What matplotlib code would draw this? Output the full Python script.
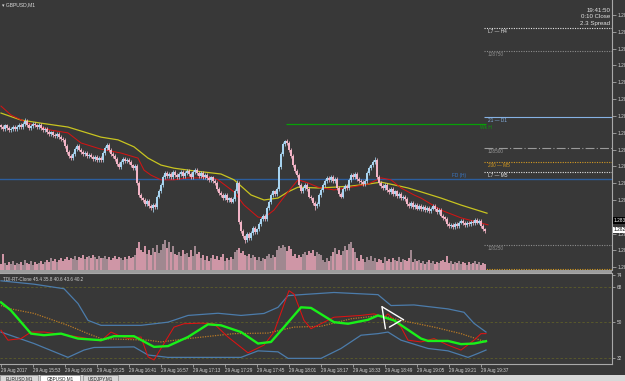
import numpy as np
import matplotlib
matplotlib.use('Agg')
import matplotlib.pylab as plt
from matplotlib.patches import Rectangle

plt.rcParams['font.family'] = ['Liberation Sans', 'DejaVu Sans']

# GBPUSD M1, prices kept as pips above 1.28000
closes = [
    55.5, 55.0, 55.8, 55.2, 54.6, 55.0, 55.4, 54.8, 55.3, 55.9, 55.5, 56.2, 57.0,
    56.0, 55.2, 55.6, 56.3, 55.8,
    55.4, 56.0, 55.1, 54.7, 54.9,
    54.2, 53.6, 54.0, 53.4, 53.0,
    53.5, 52.8, 52.4, 52.0,
    50.5, 49.0, 48.0, 47.5,
    48.5, 49.8, 50.5, 49.6, 49.0,
    48.4, 48.8, 48.0, 48.3, 47.8,
    47.2, 47.6, 46.9, 47.4, 47.0,
    48.6, 50.0, 50.8,
    49.5, 48.5, 48.0, 47.2,
    45.8, 45.2,
    46.5, 47.2, 46.6, 47.0, 46.4,
    45.5, 44.8, 45.3,
    41.0, 38.0,
    37.0, 36.5, 35.6, 36.3,
    35.0, 34.6, 35.4, 34.8,
    37.5, 39.0, 40.5,
    42.5, 43.6, 42.8,
    43.4, 42.6, 43.8, 43.0,
    42.4, 43.2, 43.8, 42.8, 43.5, 44.2, 43.4,
    42.6, 43.8, 44.4, 43.5, 42.8,
    43.6, 42.5, 43.0, 42.2,
    41.8, 42.4, 41.5, 41.0,
    39.5, 38.4, 37.8,
    37.2, 37.8, 36.6, 37.0, 36.2, 36.8,
    39.0, 41.0,
    31.0,
    28.5, 27.2, 26.4, 27.8, 26.8,
    28.0, 29.5, 28.4, 29.0,
    30.5, 31.8, 32.5, 31.6,
    34.5, 36.0,
    38.0, 38.8, 38.2, 39.5,
    45.0, 48.5,
    51.0, 51.8, 51.2,
    49.5, 48.0,
    45.5, 44.0, 43.0,
    40.5, 39.0,
    39.8, 40.4, 39.5,
    37.5, 37.0,
    35.8, 35.0, 35.6,
    38.0, 39.2,
    40.5, 41.5, 42.2, 41.8,
    42.5, 41.6, 42.0,
    39.8, 38.2, 37.5,
    39.5, 40.2, 39.8,
    41.8, 43.0, 42.4, 43.2,
    42.0, 41.5,
    41.2, 40.8, 41.5,
    43.5, 44.8, 45.5,
    46.5, 47.0,
    42.5, 41.0,
    40.2, 39.8, 40.5,
    39.2, 38.6, 39.4, 38.2, 38.8,
    37.6, 38.2, 37.0, 37.5, 36.8,
    35.6, 35.0, 35.8,
    34.8, 35.4, 34.4, 35.0,
    34.2, 34.8, 34.0,
    34.6, 33.8, 34.4,
    35.0, 34.2, 33.6, 34.0,
    32.6, 32.0, 31.8,
    30.4, 29.8,
    30.2, 29.6, 30.4, 29.8,
    30.8, 31.2, 30.6,
    30.2, 30.8, 30.4, 31.0, 30.6,
    31.4, 30.8, 31.2,
    30.0, 29.0, 28.6,
]
first_open = 55.8
spike_high = {12: 57.7, 118: 41.8, 142: 52.1, 187: 47.8}
spike_low = {76: 33.5, 122: 25.5, 157: 34.0}

volumes = [
    6, 16, 7, 5, 8, 6, 9, 5, 7, 6,
    8, 5, 10, 7, 6, 9, 5, 8, 6, 7, 9, 6, 8,
    10, 8, 12, 9, 11, 8, 10, 12, 9, 11, 13, 10, 12,
    11, 14, 10, 13, 12, 15, 11, 13, 14, 12, 15, 13, 11, 14, 12,
    12, 14, 11, 13, 10, 12, 14, 11, 13, 12, 10, 13, 11, 14, 12, 13, 15,
    22, 28, 20, 18, 24,
    16, 20, 15, 22, 18, 25, 17, 20,
    26, 30, 22, 28, 18, 24, 16,
    15, 18, 14, 20, 16, 17, 13,
    20, 14, 24, 16, 18,
    12, 15, 10, 14,
    9, 12, 15, 11, 14, 10, 13, 16, 9, 12, 10, 13, 11,
    18, 20, 22, 17, 19, 15,
    14, 16, 12, 15, 13,
    10, 13, 9, 12, 11,
    14, 16, 12, 15, 13,
    20, 24, 22, 25, 23, 19, 24, 21,
    14, 16, 12, 15, 13,
    16, 18, 15, 19, 17, 20, 14, 18, 16, 15,
    10, 8, 12, 9,
    14, 18, 22, 16, 20, 15, 19, 24,
    20, 26, 28, 22, 18,
    12, 9, 15, 11, 8, 13, 10, 14,
    9, 12, 8, 11, 10, 7, 13, 9, 11, 8, 12, 10, 9, 13, 8, 11, 10, 9, 12, 20, 8, 11, 9, 10,
    7, 9, 6, 8, 10, 7, 9, 6, 8, 7, 9, 10, 8, 14, 7, 9, 6, 8, 7, 9, 6, 8, 7, 5, 8, 6, 7,
    9, 6, 8, 5, 7, 6,
]

# moving averages (bar index, pips)
ma_slow_x = [0, 10, 20, 33.5, 50, 58.5, 66.5, 73.5, 80, 86.5, 96.5, 105, 110, 116.5, 125,
             131.5, 138.5, 143.5, 148.5, 158.5, 166.5, 175, 183.5, 190, 196.5, 203.5, 210,
             220, 230, 243]
ma_slow = [59.0, 57.2, 56.4, 55.4, 52.8, 52.1, 50.3, 47.4, 45.6, 44.8, 44.1, 43.6, 43.3, 41.8,
           37.9, 36.6, 37.1, 38.7, 39.9, 39.7, 39.9, 40.2, 40.7, 41.2, 40.5, 39.7, 38.7, 37.1,
           35.3, 33.2]
ma_fast_x = [0, 5, 13.5, 25, 33.5, 40, 50, 60, 68.5, 71.5, 75, 80, 86.5, 93.5, 100, 105, 108.5,
             116.5, 121.5, 128.5, 131.5, 136.5, 141.5, 148.5, 153.5, 158.5, 166.5, 175, 183.5,
             190, 195, 200, 206.5, 210, 220, 230, 243.5]
ma_fast = [60.8, 58.5, 56.4, 54.6, 53.9, 51.3, 49.7, 48.7, 47.4, 44.3, 43.0, 41.8, 41.8, 42.3,
           42.3, 42.5, 41.8, 38.7, 35.3, 32.2, 32.0, 34.0, 37.4, 41.8, 41.0, 39.9, 39.2, 39.9,
           40.7, 42.3, 41.8, 39.7, 37.9, 37.1, 34.0, 32.0, 30.2]

# horizontal levels: (pips, label, colour, style)
levels = [
    (80.9, 'L7 — H4', '#e6e6e6', (0, (1, 1.2))),
    (75.0, '128750', '#8c8c8c', (0, (1, 1.2))),
    (58.0, '21 — D1', '#86b2e4', '-'),
    (50.0, '128500', '#9a9a9a', (0, (8, 2, 1, 2))),
    (46.4, '200 — M5', '#d49a22', (0, (1, 1.2))),
    (43.8, 'L7 — M5', '#e6e6e6', (0, (1, 1.2))),
    (25.0, '128250', '#8c8c8c', (0, (1, 1.2))),
    (18.8, '', '#d49a22', (0, (1, 1.2))),
]
week_high = 56.2
fd_level = 42.1
price_ticks = [84.3, 80.0, 75.6, 71.3, 67.0, 62.6, 58.3, 53.9, 49.6, 45.3, 40.9, 36.6,
               27.9, 23.6, 19.3]
bid_price = 31.4
ask_price = 28.9

# TDI indicator
tdi_up_x = [0, 16.5, 31.5, 38.5, 43.5, 50, 70, 83.5, 93.5, 108.5, 120, 131.5, 138.5, 143.5,
            150, 166.5, 188.5, 195, 206.5, 223.5, 231.5, 236.5, 242.5]
tdi_up = [70.9, 69.2, 66.9, 59.4, 50.9, 48.4, 48.4, 50.0, 53.4, 54.5, 53.4, 54.4, 57.5, 63.4,
          63.9, 65.0, 63.9, 58.4, 58.7, 56.7, 55.0, 49.4, 45.0]
tdi_dn_x = [0, 16.5, 33.5, 41.5, 46.5, 66.5, 73.5, 83.5, 120, 128.5, 138.5, 143.5, 160, 170,
            180, 188.5, 193.5, 200, 213.5, 223.5, 233.5, 238.5, 242.5]
tdi_dn = [45.0, 39.2, 32.2, 35.9, 37.2, 37.5, 33.4, 32.2, 32.2, 35.5, 35.0, 31.7, 31.7, 36.7,
          43.4, 44.2, 45.0, 40.9, 36.7, 35.5, 32.2, 34.2, 35.9]
tdi_mid_x = [0, 5, 16.5, 33.5, 43.5, 50, 73.5, 80, 93.5, 116.5, 133.5, 146.5, 160, 175, 190,
             200, 216.5, 230, 242.5]
tdi_mid = [58.4, 56.7, 54.4, 48.4, 44.2, 41.7, 40.9, 40.0, 41.7, 44.2, 44.5, 47.5, 47.9, 51.7,
           53.4, 50.9, 47.5, 44.2, 40.0]
tdi_green_x = [0, 5, 15, 21.5, 30, 38.5, 50, 56.5, 66.5, 76.5, 83.5, 93.5, 103.5, 110, 120,
               128.5, 135, 141.5, 150, 155, 166.5, 173.5, 183.5, 188.5, 196.5, 210, 213.5,
               223.5, 230, 236.5, 242.5]
tdi_green = [60.0, 55.9, 44.2, 43.4, 44.2, 41.7, 40.9, 42.9, 42.9, 37.5, 37.9, 42.5, 48.9, 48.4,
             45.0, 39.2, 40.0, 47.5, 57.5, 57.2, 50.0, 49.2, 51.2, 53.4, 50.9, 41.7, 40.5, 40.5,
             38.9, 39.2, 40.4]
tdi_red_x = [0, 3.5, 10, 15, 21.5, 33.5, 43.5, 50, 55, 58.5, 63.5, 70, 73.5, 76.5, 81.5, 86.5,
             91.5, 100, 106.5, 113.5, 123.5, 131.5, 136.5, 144, 146.5, 151.5, 155, 161.5, 166.5,
             180, 186.5, 191.5, 193.5, 200, 203.5, 210, 216.5, 223.5, 230, 236.5, 240, 242.5]
tdi_red = [45.9, 40.9, 41.7, 45.0, 45.0, 43.4, 41.7, 40.5, 45.0, 43.4, 41.7, 42.5, 32.5, 30.9,
           39.2, 47.5, 49.2, 49.5, 49.2, 42.5, 34.5, 38.4, 45.0, 65.9, 64.2, 50.9, 46.7, 50.0,
           52.5, 53.4, 54.2, 52.5, 54.2, 47.5, 40.9, 40.0, 41.7, 38.4, 35.9, 40.9, 44.2, 44.2]
tdi_levels = [68, 50, 32]
tdi_ticks = [74, 68, 50, 32]
arrow_lines = [[(190.5, 57.8), (201.3, 51.2)],
               [(190.5, 57.8), (192.2, 46.7)],
               [(194.2, 47.5), (200.0, 50.9)]]

time_ticks = [0, 16, 32, 48, 64, 80, 96, 112, 128, 144, 160, 176, 192, 208, 224, 240]
time_labels = ['29 Aug 2017', '29 Aug 15:53', '29 Aug 16:09', '29 Aug 16:25', '29 Aug 16:41',
               '29 Aug 16:57', '29 Aug 17:13', '29 Aug 17:29', '29 Aug 17:45', '29 Aug 18:01',
               '29 Aug 18:17', '29 Aug 18:33', '29 Aug 18:49', '29 Aug 19:05', '29 Aug 19:21',
               '29 Aug 19:37']
tabs = ['EURUSD,M1', 'GBPUSD,M1', 'USDJPY,M1']


def price_label(v):
    return '%.5f' % (1.28 + v / 10000.0)


W, H = 625, 381
BG = '#383838'
TXT = '#d4d4d4'
AXC = '#a8a8a8'
XLIM = (-0.5, 305.5)

fig = plt.figure(figsize=(W / 100, H / 100), dpi=100, facecolor=BG)

# main price window
ax = fig.add_axes([0, 1 - 270 / H, 612 / W, 270 / H])
ax.set_facecolor(BG)
ax.set_xlim(*XLIM)
ax.set_ylim(18.56, 88.14)

vax = fig.add_axes([0, 1 - 270 / H, 612 / W, 270 / H])
vax.patch.set_alpha(0)
vax.set_xlim(*XLIM)
vax.set_ylim(0, 270)
vax.axis('off')

c = np.array(closes)
o = np.concatenate([[first_open], c[:-1]])
hi = np.maximum(o, c) + 0.5
lo = np.minimum(o, c) - 0.5
for k, v in spike_high.items():
    hi[k] = v
for k, v in spike_low.items():
    lo[k] = v
idx = np.arange(len(c))
up = c >= o
cols = np.where(up, '#a8d4f0', '#f2b4c6')

# tick volume, pinkish bars at the bottom of the price window
vcols = np.where(up, '#a08890', '#cf96a6')
vax.bar(idx, volumes, width=0.65, color=vcols, linewidth=0)

ax.plot(ma_slow_x, ma_slow, color='#c8c420', lw=0.9, zorder=3)
ax.plot(ma_fast_x, ma_fast, color='#d21414', lw=0.75, zorder=3)

ax.vlines(idx, lo, hi, colors=cols, lw=0.55, zorder=4)
ax.bar(idx, np.maximum(np.abs(c - o), 0.3), bottom=np.minimum(o, c), width=0.8,
       color=cols, linewidth=0, zorder=4)

for lv, name, col, ls in levels:
    ax.hlines(lv, 241.5, 305.5, colors=col, linestyles=[ls], lw=0.8, zorder=2)
    if name:
        ax.text(243.5, lv - 0.35, name, color=col, fontsize=3.4, va='top', ha='left')

ax.hlines(week_high, 142.5, 242.5, colors='#07a007', lw=0.9, zorder=2)
ax.text(242.5, week_high - 0.35, 'Wk H', color='#07a007', fontsize=3.4, va='top', ha='center')
ax.axhline(fd_level, color='#2c5e9e', lw=1.0, zorder=2)
ax.text(229, fd_level + 0.2, 'FD (H)', color='#3a78c8', fontsize=3.4, va='bottom', ha='center')

ax.yaxis.tick_right()
ax.set_yticks(price_ticks)
ax.set_yticklabels([price_label(v) for v in price_ticks])
ax.tick_params(axis='y', color=AXC, labelcolor=TXT, labelsize=3.4, length=3, width=0.6, pad=1)
ax.tick_params(axis='x', bottom=False, labelbottom=False)
for s in ['top', 'left', 'bottom']:
    ax.spines[s].set_visible(False)
ax.spines['right'].set_color(AXC)
ax.spines['right'].set_linewidth(0.8)

tr = ax.get_yaxis_transform()
ax.text(1.003, bid_price, price_label(bid_price), transform=tr, fontsize=3.4, color='white',
        va='center', ha='left', clip_on=False,
        bbox=dict(fc='black', ec='none', pad=0.6))
ax.text(1.003, ask_price, price_label(ask_price), transform=tr, fontsize=3.4, color='black',
        va='center', ha='left', clip_on=False,
        bbox=dict(fc='white', ec='none', pad=0.6))

# separator between windows
fig.patches.append(Rectangle((0, 1 - 272.5 / H), 612 / W, 2.5 / H, transform=fig.transFigure,
                             fc='#9c9c9c', ec='none'))

# TDI window
ix = fig.add_axes([0, 1 - 364 / H, 612 / W, 91 / H])
ix.set_facecolor(BG)
ix.set_xlim(*XLIM)
ix.set_ylim(28.85, 74.85)
for lv in tdi_levels:
    ix.axhline(lv, color='#58582c', lw=0.7, ls=(0, (2.5, 2)))
ix.plot(tdi_up_x, tdi_up, color='#4c7cab', lw=0.9)
ix.plot(tdi_dn_x, tdi_dn, color='#4c7cab', lw=0.9)
ix.plot(tdi_mid_x, tdi_mid, color='#b87a26', lw=0.9, ls=(0, (1, 1)))
ix.plot(tdi_red_x, tdi_red, color='#e01212', lw=0.75)
ix.plot(tdi_green_x, tdi_green, color='#19f019', lw=1.7)
for seg in arrow_lines:
    xs, ys = zip(*seg)
    ix.plot(xs, ys, color='white', lw=1.0, solid_capstyle='round')

ix.text(0.005, 0.955, 'TDI-RT-Clone 45.4 35.8 40.6 43.6 40.2', transform=ix.transAxes,
        fontsize=3.3, color='#cfcfcf', va='top', ha='left')

ix.yaxis.tick_right()
ix.set_yticks(tdi_ticks)
ix.set_yticklabels([str(t) for t in tdi_ticks])
ix.tick_params(axis='y', color=AXC, labelcolor=TXT, labelsize=3.4, length=2.5, width=0.6, pad=1)
ix.set_xticks(time_ticks)
ix.set_xticklabels(time_labels)
ix.tick_params(axis='x', color=AXC, labelcolor=TXT, labelsize=3.3, length=2, width=0.6, pad=1)
for lbl in ix.get_xticklabels():
    lbl.set_ha('left')
ix.spines['left'].set_visible(False)
for s in ['top', 'right', 'bottom']:
    ix.spines[s].set_color(AXC)
    ix.spines[s].set_linewidth(0.8)

# header texts
fig.text(2 / W, 1 - 4.5 / H, '▾ GBPUSD,M1', fontsize=3.6, color='#d8d8d8', va='center', ha='left')
for k, s in enumerate(['19:41:50', '0:10 Close', '2.3 Spread']):
    fig.text(610 / W, 1 - (10 + 7 * k) / H, s, fontsize=4.4, color='#e2e2e2', va='center',
             ha='right')

# symbol tabs at the bottom
fig.patches.append(Rectangle((0, 0), 1, 5.8 / H, transform=fig.transFigure,
                             fc='#d8d8d8', ec='none'))
tab_x = [(0, 38), (40, 80), (83, 118)]
for k, (name, (x0, x1)) in enumerate(zip(tabs, tab_x)):
    fc = 'white' if k == 1 else '#d8d8d8'
    fig.patches.append(Rectangle((x0 / W, 0), (x1 - x0) / W, 5.8 / H, transform=fig.transFigure,
                                 fc=fc, ec='#8a8a8a', lw=0.5))
    fig.text((x0 + x1) / 2 / W, 2.6 / H, name, fontsize=3.3, color='#202020', ha='center',
             va='center')

fig.savefig('out.png', dpi=100, facecolor=BG)
